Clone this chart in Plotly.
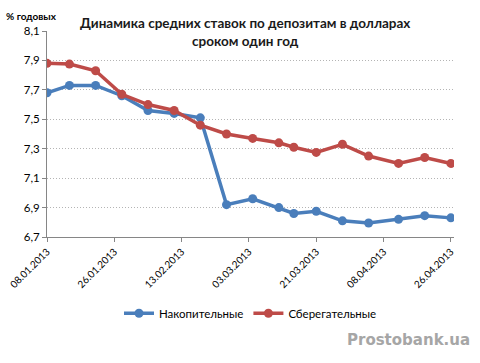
import plotly.graph_objects as go

dates = ["2013-01-08", "2013-01-14", "2013-01-21", "2013-01-28", "2013-02-04",
         "2013-02-11", "2013-02-18", "2013-02-25", "2013-03-04", "2013-03-11",
         "2013-03-15", "2013-03-21", "2013-03-28", "2013-04-04", "2013-04-12",
         "2013-04-19", "2013-04-26"]
nakop = [7.68, 7.73, 7.73, 7.66, 7.56, 7.54, 7.51, 6.92, 6.96, 6.90,
         6.86, 6.875, 6.81, 6.795, 6.82, 6.845, 6.83]
sber = [7.88, 7.875, 7.83, 7.67, 7.60, 7.56, 7.46, 7.40, 7.37, 7.34,
        7.31, 7.275, 7.33, 7.25, 7.20, 7.24, 7.20]
y_ticks = [6.7, 6.9, 7.1, 7.3, 7.5, 7.7, 7.9, 8.1]

BLUE = "#4A7EBB"
RED = "#BE4B48"
FONT = "Lato"

fig = go.Figure()
fig.add_trace(go.Scatter(x=dates, y=nakop, name="Накопительные", mode="lines+markers",
                         line=dict(color=BLUE, width=3.5),
                         marker=dict(color=BLUE, size=9, symbol="circle")))
fig.add_trace(go.Scatter(x=dates, y=sber, name="Сберегательные", mode="lines+markers",
                         line=dict(color=RED, width=3.5),
                         marker=dict(color=RED, size=9, symbol="circle")))

fig.update_layout(
    width=480, height=363,
    margin=dict(l=47, r=26, t=31, b=126),
    paper_bgcolor="white", plot_bgcolor="white",
    separators=", ",
    font=dict(family=FONT, size=11, color="#000000"),
    showlegend=True,
    legend=dict(orientation="h", x=0.5, xanchor="center", y=-0.37, yanchor="middle",
                font=dict(family=FONT, size=11.5, color="#000000"), itemwidth=30),
    xaxis=dict(type="date", range=["2013-01-08", "2013-04-26 20:00"], automargin=False,
               tick0="2013-01-08", dtick=18 * 86400000, tickformat="%d.%m.%Y",
               tickangle=-45, showgrid=False, showline=True, linecolor="#868686",
               linewidth=1, ticks="outside", ticklen=4, tickcolor="#868686",
               tickfont=dict(family=FONT, size=10), zeroline=False),
    yaxis=dict(range=[6.7, 8.1], tickvals=y_ticks, tickformat=".1f", automargin=False,
               showgrid=True, gridcolor="#B4B4B4", griddash="1px,2px", gridwidth=1,
               showline=True, linecolor="#868686", linewidth=1,
               ticks="outside", ticklen=4, tickcolor="#868686",
               tickfont=dict(family=FONT, size=11.5), zeroline=False),
)

fig.add_annotation(text="<b>Динамика средних ставок по депозитам в долларах<br>сроком один год</b>",
                   xref="paper", yref="paper", x=0.486, y=0.995, xanchor="center", yanchor="middle",
                   showarrow=False, font=dict(family=FONT, size=13.5, color="#1a1a1a"))
fig.add_annotation(text="<b>% годовых</b>", xref="paper", yref="paper",
                   x=-0.105, y=1.073, xanchor="left", yanchor="middle",
                   showarrow=False, font=dict(family=FONT, size=10, color="#000000"))
fig.add_annotation(text="<b>Prostobank.ua</b>", xref="paper", yref="paper",
                   x=1.044, y=-0.5, xanchor="right", yanchor="middle",
                   showarrow=False, font=dict(family="DejaVu Sans", size=15, color="#A6A6A6"))

fig.write_html("out.html", config={"displayModeBar": False},
               post_script="document.body.style.margin='0';")
